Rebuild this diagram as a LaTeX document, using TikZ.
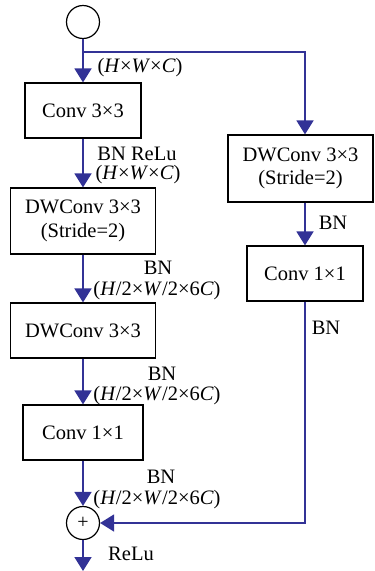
\documentclass[tikz,border=0pt]{standalone}
\usepackage{fontspec}
\setmainfont{Liberation Serif}
\usetikzlibrary{arrows.meta}
\definecolor{flow}{RGB}{50,50,150}
\newcommand{\hwcdim}{(\textit{H}×\textit{W}×\textit{C})}
\newcommand{\halfdim}{(\textit{H}/2×\textit{W}/2×6\textit{C})}
\begin{document}
\begin{tikzpicture}[x=1pt,y=-1pt,
  font=\fontsize{20.5}{23.5}\selectfont,
  block/.style={draw=black,line width=1.2pt,minimum height=55pt,align=center,inner sep=0pt},
  op/.style={draw=black,line width=1.2pt,circle,minimum size=33pt,inner sep=0pt},
  flowline/.style={draw=flow,line width=1.7pt},
  flowarrow/.style={flowline,-{Triangle[length=14pt,width=17pt]}},
  lbl/.style={anchor=base,inner sep=0pt}]
\useasboundingbox (0,0) rectangle (375,571);

% main path
\node[op] (in) at (83,22) {};
\node[block,minimum width=116pt] (conv1) at (83,110.5) {Conv 3×3};
\node[block,minimum width=145pt,minimum height=66pt] (dw1) at (83,221) {DWConv 3×3\\(Stride=2)};
\node[block,minimum width=145pt] (dw2) at (83,330.5) {DWConv 3×3};
\node[block,minimum width=120pt] (conv2) at (83,432.5) {Conv 1×1};
\node[op] (add) at (83,523) {\fontsize{20}{20}\selectfont\raisebox{1pt}{+}};

% shortcut path
\node[block,minimum width=145pt,minimum height=67pt] (rdw) at (300.5,168.5) {DWConv 3×3\\(Stride=2)};
\node[block,minimum width=116pt] (rconv) at (305,273.5) {Conv 1×1};

\coordinate (split) at (83,52);
\coordinate (splitr) at (305,52);
\coordinate (join) at (305,523);
\coordinate (out) at (83,571);

% connectors
\draw[flowarrow] (in) -- (conv1);
\draw[flowarrow] (split) -- (splitr) -- (splitr |- rdw.north);
\draw[flowarrow] (conv1) -- (dw1);
\draw[flowarrow] (dw1) -- (dw2);
\draw[flowarrow] (dw2) -- (conv2);
\draw[flowarrow] (conv2) -- (add);
\draw[flowarrow] (rconv.north |- rdw.south) -- (rconv.north);
\draw[flowarrow] (rconv.south) -- (join) -- (add.east);
\draw[flowarrow] (add) -- (out);

% labels
\node[lbl] (l0) at (140,72) {\hwcdim};
\node[lbl] (l1a) at (137,160) {BN ReLu};
\node[lbl] (l1b) at (138,179) {\hwcdim};
\node[lbl] (l2a) at (158,274) {BN};
\node[lbl] (l2b) at (157,295) {\halfdim};
\node[lbl] (l3a) at (162,380) {BN};
\node[lbl] (l3b) at (157,400) {\halfdim};
\node[lbl] (l4a) at (161,483) {BN};
\node[lbl] (l4b) at (157,504) {\halfdim};
\node[lbl] (r1) at (333,229) {BN};
\node[lbl] (r2) at (326,334) {BN};
\node[lbl] (l5) at (131,560) {ReLu};
\end{tikzpicture}
\end{document}
